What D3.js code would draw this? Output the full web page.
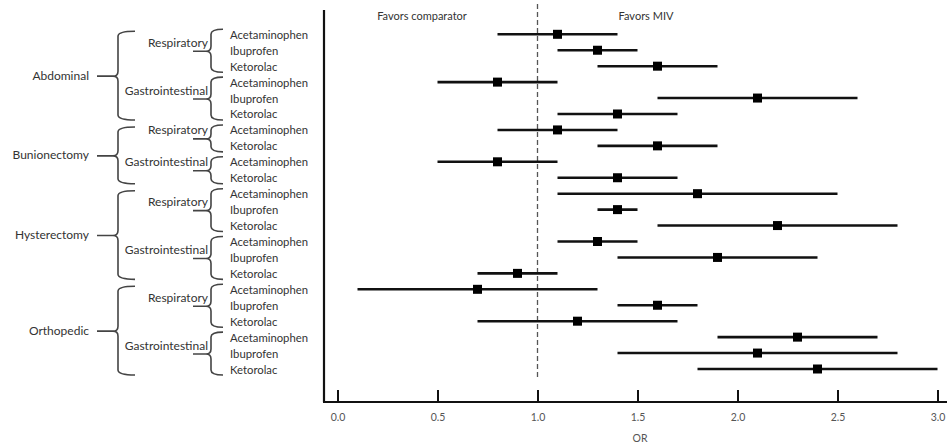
<!DOCTYPE html>
<html>
<head>
<meta charset="utf-8">
<script src="https://cdn.jsdelivr.net/npm/d3@7"></script>
<style>
  html, body { margin: 0; padding: 0; background: #fff; }
  svg { display: block; }
  text { font-family: Lato, "Open Sans", sans-serif; }
</style>
</head>
<body>
<svg id="chart" width="947" height="443"></svg>
<script>
// ---------- data ----------
const categories = ["Abdominal", "Bunionectomy", "Hysterectomy", "Orthopedic"];
const rowCategory = [
  "Abdominal","Abdominal","Abdominal","Abdominal","Abdominal","Abdominal",
  "Bunionectomy","Bunionectomy","Bunionectomy","Bunionectomy",
  "Hysterectomy","Hysterectomy","Hysterectomy","Hysterectomy","Hysterectomy","Hysterectomy",
  "Orthopedic","Orthopedic","Orthopedic","Orthopedic","Orthopedic","Orthopedic"
];
const rowOutcome = [
  "Respiratory","Respiratory","Respiratory","Gastrointestinal","Gastrointestinal","Gastrointestinal",
  "Respiratory","Respiratory","Gastrointestinal","Gastrointestinal",
  "Respiratory","Respiratory","Respiratory","Gastrointestinal","Gastrointestinal","Gastrointestinal",
  "Respiratory","Respiratory","Respiratory","Gastrointestinal","Gastrointestinal","Gastrointestinal"
];
const rowDrug = [
  "Acetaminophen","Ibuprofen","Ketorolac","Acetaminophen","Ibuprofen","Ketorolac",
  "Acetaminophen","Ketorolac","Acetaminophen","Ketorolac",
  "Acetaminophen","Ibuprofen","Ketorolac","Acetaminophen","Ibuprofen","Ketorolac",
  "Acetaminophen","Ibuprofen","Ketorolac","Acetaminophen","Ibuprofen","Ketorolac"
];
const orValues = [1.1,1.3,1.6,0.8,2.1,1.4, 1.1,1.6,0.8,1.4, 1.8,1.4,2.2,1.3,1.9,0.9, 0.7,1.6,1.2,2.3,2.1,2.4];
const ciLower  = [0.8,1.1,1.3,0.5,1.6,1.1, 0.8,1.3,0.5,1.1, 1.1,1.3,1.6,1.1,1.4,0.7, 0.1,1.4,0.7,1.9,1.4,1.8];
const ciUpper  = [1.4,1.5,1.9,1.1,2.6,1.7, 1.4,1.9,1.1,1.7, 2.5,1.5,2.8,1.5,2.4,1.1, 1.3,1.8,1.7,2.7,2.8,3.0];
const xTicks = [0, 0.5, 1.0, 1.5, 2.0, 2.5, 3.0];
const xTickLabels = ["0.0","0.5","1.0","1.5","2.0","2.5","3.0"];
const referenceValue = 1;
const axisTitle = "OR";
const favorsLeft = "Favors comparator";
const favorsRight = "Favors MIV";

// ---------- layout ----------
const svg = d3.select("#chart");
const rowIds = d3.range(orValues.length);
const x = d3.scaleLinear().domain([0, 3]).range([337.5, 937.5]);
const y = d3.scalePoint().domain(rowIds).range([34.3, 369]);
const axisY = 402;
const plotLeft = 324;

// favors labels
svg.append("text").attr("x", 422).attr("y", 15).attr("text-anchor", "middle")
  .attr("dominant-baseline", "central").attr("font-size", 11).attr("fill", "#333").text(favorsLeft);
svg.append("text").attr("x", 646).attr("y", 15).attr("text-anchor", "middle")
  .attr("dominant-baseline", "central").attr("font-size", 11).attr("fill", "#333").text(favorsRight);

// reference dashed line
svg.append("line")
  .attr("x1", x(referenceValue)).attr("x2", x(referenceValue))
  .attr("y1", 4).attr("y2", 377)
  .attr("stroke", "#555").attr("stroke-width", 1.3).attr("stroke-dasharray", "5,3");

// CI lines
svg.append("g").selectAll("line").data(rowIds).join("line")
  .attr("x1", i => x(ciLower[i])).attr("x2", i => x(ciUpper[i]))
  .attr("y1", i => y(i)).attr("y2", i => y(i))
  .attr("stroke", "#111").attr("stroke-width", 2.6);

// points
const sq = 9;
svg.append("g").selectAll("rect").data(rowIds).join("rect")
  .attr("x", i => x(orValues[i]) - sq / 2).attr("y", i => y(i) - sq / 2)
  .attr("width", sq).attr("height", sq).attr("fill", "#000");

// axes
const xAxis = d3.axisBottom(x).tickValues(xTicks)
  .tickFormat((d, i) => xTickLabels[i]).tickSizeInner(-12).tickSizeOuter(0).tickPadding(9);
const gx = svg.append("g").attr("transform", `translate(0,${axisY})`).call(xAxis);
gx.select(".domain").remove();
gx.selectAll(".tick line").attr("stroke", "#111").attr("stroke-width", 2);
gx.selectAll(".tick text").attr("font-family", "Lato, sans-serif").attr("font-size", 10.5).attr("fill", "#555").attr("dy", "0.95em");
svg.append("line").attr("x1", plotLeft - 1).attr("x2", 947).attr("y1", axisY).attr("y2", axisY)
  .attr("stroke", "#111").attr("stroke-width", 2.2);
svg.append("line").attr("x1", plotLeft).attr("x2", plotLeft).attr("y1", 10).attr("y2", axisY)
  .attr("stroke", "#111").attr("stroke-width", 2.2);
svg.append("text").attr("x", 640).attr("y", 438).attr("text-anchor", "middle")
  .attr("dominant-baseline", "central").attr("font-size", 10.5).attr("fill", "#555").text(axisTitle);

// drug labels
svg.append("g").selectAll("text").data(rowIds).join("text")
  .attr("x", 230).attr("y", i => y(i)).attr("dominant-baseline", "central")
  .attr("font-size", 11.3).attr("fill", "#333").text(i => rowDrug[i]);

// brace path
function brace(xv, y0, y1, ym, hook, tip) {
  const r = 5;
  return `M${xv + hook},${y0} Q${xv},${y0} ${xv},${y0 + r} L${xv},${ym - r} Q${xv},${ym} ${xv - r},${ym} L${xv - tip},${ym}` +
         ` M${xv - r},${ym} Q${xv},${ym} ${xv},${ym + r} L${xv},${y1 - r} Q${xv},${y1} ${xv + hook},${y1}`;
}

// outcome groups
const outcomeGroups = [];
rowIds.forEach(i => {
  const last = outcomeGroups[outcomeGroups.length - 1];
  if (last && last.cat === rowCategory[i] && last.out === rowOutcome[i]) last.rows.push(i);
  else outcomeGroups.push({ cat: rowCategory[i], out: rowOutcome[i], rows: [i] });
});
const gOut = svg.append("g");
outcomeGroups.forEach(g => {
  const y0 = y(g.rows[0]) - 5, y1 = y(g.rows[g.rows.length - 1]) + 6;
  const ym = (y(g.rows[0]) + y(g.rows[g.rows.length - 1])) / 2 + 1;
  gOut.append("path").attr("d", brace(211, y0, y1, ym, 12, 18))
    .attr("fill", "none").attr("stroke", "#444").attr("stroke-width", 1.6);
  gOut.append("text").attr("x", 208).attr("y", ym - 9).attr("text-anchor", "end")
    .attr("dominant-baseline", "central").attr("font-size", 12).attr("fill", "#333").text(g.out);
});

// category groups
const gCat = svg.append("g");
categories.forEach(c => {
  const rows = rowIds.filter(i => rowCategory[i] === c);
  const y0 = y(rows[0]) - 3, y1 = y(rows[rows.length - 1]) + 6;
  const ym = (y(rows[0]) + y(rows[rows.length - 1])) / 2 + 2;
  gCat.append("path").attr("d", brace(118, y0, y1, ym, 17, 21))
    .attr("fill", "none").attr("stroke", "#444").attr("stroke-width", 1.6);
  gCat.append("text").attr("x", 89).attr("y", ym - 1).attr("text-anchor", "end")
    .attr("dominant-baseline", "central").attr("font-size", 12).attr("fill", "#333").text(c);
});
</script>
</body>
</html>
